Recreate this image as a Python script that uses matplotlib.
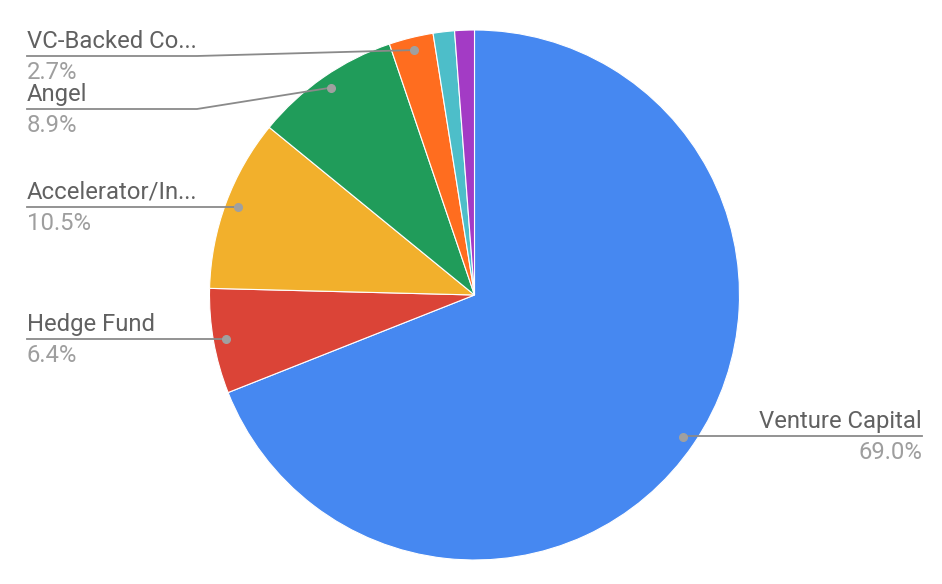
import numpy as np
import matplotlib
matplotlib.use('Agg')
import matplotlib.pyplot as plt

# data
labels = ['Venture Capital', 'Hedge Fund', 'Accelerator/In...', 'Angel',
          'VC-Backed Co...', 'Other 1', 'Other 2']
values = [69.0, 6.4, 10.5, 8.9, 2.7, 1.3, 1.2]
colors = ['#4688F1', '#DB4437', '#F2B02C', '#209C5A', '#FF6D1F',
          '#4DBEC9', '#A33BC5']
shown = [0, 1, 2, 3, 4]  # slices with a label

plt.rcParams['font.family'] = ['Roboto', 'DejaVu Sans']

fig = plt.figure(figsize=(9.42, 5.84), dpi=100)
ax = fig.add_axes([0, 0, 1, 1])

cx, cy, r = 474.5, 295, 265
# y axis is flipped, so counterclock here reads clockwise on screen
wedges, _ = ax.pie(values, colors=colors, startangle=-90, counterclock=True,
                   center=(cx, cy), radius=r, frame=True,
                   wedgeprops=dict(linewidth=0.8, edgecolor='white'))
ax.set_xlim(0, 942)
ax.set_ylim(584, 0)
ax.set_aspect('equal')
ax.axis('off')

line_c = '#8a8a8a'
name_c = '#616161'
pct_c = '#9e9e9e'
fs = 17.2

# label layout: (line y, text x, side, elbow x)
layout = {
    0: (436, 922, 'right', None),
    1: (339, 27, 'left', None),
    2: (207, 27, 'left', None),
    3: (109, 27, 'left', 197),
    4: (56, 27, 'left', 197),
}

for i in shown:
    w = wedges[i]
    ang = np.deg2rad((w.theta1 + w.theta2) / 2)
    dx = cx + 0.952 * r * np.cos(ang)
    dy = cy + 0.952 * r * np.sin(ang)
    ly, tx, side, ex = layout[i]
    if ex is None:
        ax.plot([dx, tx], [ly, ly], color=line_c, lw=1.3, zorder=5)
    else:
        ax.plot([dx, ex, tx], [dy, ly, ly], color=line_c, lw=1.3, zorder=5)
    ax.plot(dx, dy, 'o', color='#a0a0a0', ms=5.5, zorder=6)
    ha = 'left' if side == 'left' else 'right'
    ax.text(tx, ly - 8, labels[i], ha=ha, va='baseline', fontsize=fs,
            color=name_c)
    ax.text(tx, ly + 23, '%.1f%%' % values[i], ha=ha, va='baseline',
            fontsize=fs, color=pct_c)

plt.savefig('out.png', dpi=100)
